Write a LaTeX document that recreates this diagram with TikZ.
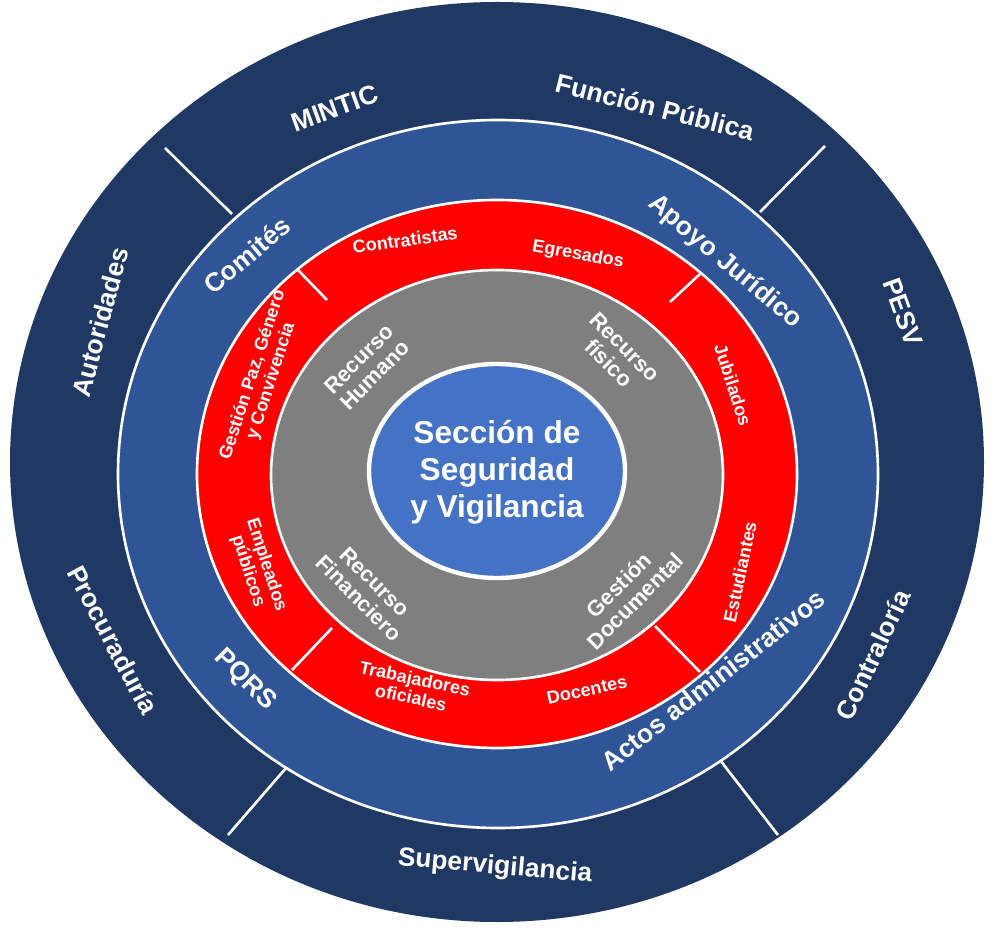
\documentclass[tikz,border=0pt]{standalone}
\usepackage{fontspec}
\setmainfont{Liberation Sans}
\begin{document}
\begin{tikzpicture}[x=0.2mm,y=-0.2mm,
  ring/.style={draw=white,line width=1.5pt},
  sep/.style={draw=white,line width=1.5pt},
  lo/.style={text=white,font=\bfseries\fontsize{15}{16}\selectfont,align=center},
  lb/.style={text=white,font=\bfseries\fontsize{15}{16}\selectfont,align=center},
  lr/.style={text=white,font=\bfseries\fontsize{10.3}{11}\selectfont,align=center},
  lg/.style={text=white,font=\bfseries\fontsize{12.5}{13}\selectfont,align=center}]
\useasboundingbox (0,0) rectangle (1000,950);
\fill[white] (0,0) rectangle (1000,950);
\definecolor{navy}{HTML}{1F3864}
\definecolor{mblue}{HTML}{2F5597}
\definecolor{cblue}{HTML}{4472C4}
\definecolor{gry}{HTML}{7F7F7F}
\definecolor{rd}{HTML}{FF0000}
\fill[navy] (497,462) ellipse [x radius=487,y radius=460];
% outer separators
\draw[sep] (165,148) -- (232,214);
\draw[sep] (825,146) -- (760,212);
\draw[sep] (778,835) -- (720,760);
\draw[sep] (228,835) -- (286,768);
\filldraw[fill=mblue,ring] (498,474) ellipse [x radius=380,y radius=354];
\filldraw[fill=rd,ring] (497,474) ellipse [x radius=300,y radius=274];
\draw[sep] (298,270) -- (327,300);
\draw[sep] (700,274) -- (670,302);
\draw[sep] (700,672) -- (655,626);
\draw[sep] (292,670) -- (332,628);
\filldraw[fill=gry,ring] (497,475) ellipse [x radius=226,y radius=205];
\filldraw[fill=cblue,draw=white,line width=2.5pt] (497,471) ellipse [x radius=128,y radius=107];
\node[lo,font=\bfseries\fontsize{18}{21}\selectfont] (center) at (497,472) {Sección de\\Seguridad\\y Vigilancia};
% outer ring
\node[lo,rotate=20] (o1) at (335,108) {MINTIC};
\node[lo,rotate=-14] (o2) at (655,107) {Función Pública};
\node[lo,rotate=75] (o3) at (100,322) {Autoridades};
\node[lo,rotate=-70] (o4) at (903,312) {PESV};
\node[lo,rotate=-62] (o5) at (113,640) {Procuraduría};
\node[lo,rotate=65] (o6) at (873,655) {Contraloría};
\node[lo,rotate=-5] (o7) at (495,867) {Supervigilancia};
% blue ring
\node[lb,rotate=40] (b1) at (247,255) {Comités};
\node[lb,rotate=-40] (b2) at (725,262) {Apoyo Jurídico};
\node[lb,rotate=-45] (b3) at (245,680) {PQRS};
\node[lb,rotate=38] (b4) at (713,680) {Actos administrativos};
% red ring
\node[lr,rotate=8] (r1) at (405,240) {Contratistas};
\node[lr,rotate=-10] (r2) at (578,255) {Egresados};
\node[lr,rotate=-72] (r3) at (733,385) {Jubilados};
\node[lr,rotate=78] (r4) at (740,572) {Estudiantes};
\node[lr,rotate=12] (r5) at (587,690) {Docentes};
\node[lr,rotate=-12] (r6) at (413,688) {Trabajadores\\oficiales};
\node[lr,rotate=-72] (r7) at (257,568) {Empleados\\públicos};
\node[lr,rotate=72] (r8) at (262,378) {Gestión Paz, Género\\y Convivencia};
% gray ring
\node[lg,rotate=45] (g1) at (367,367) {Recurso\\Humano};
\node[lg,rotate=-45] (g2) at (617,355) {Recurso\\físico};
\node[lg,rotate=-45] (g3) at (367,590) {Recurso\\Financiero};
\node[lg,rotate=45] (g4) at (627,593) {Gestión\\Documental};
\end{tikzpicture}
\end{document}
